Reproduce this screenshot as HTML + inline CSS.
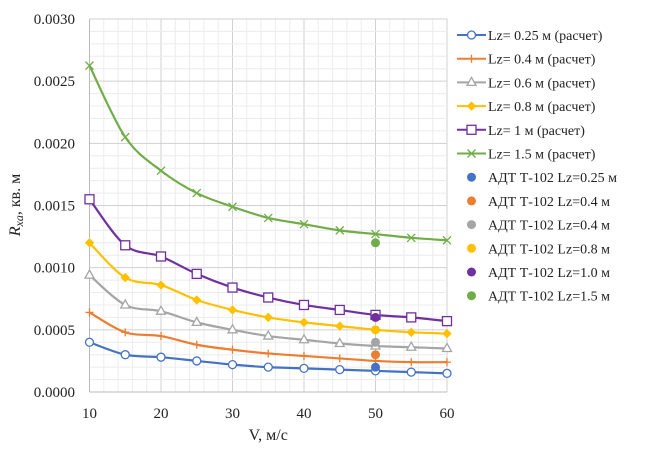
<!DOCTYPE html>
<html><head><meta charset="utf-8"><style>
body{margin:0;background:#fff;}
svg text{font-family:"Liberation Serif",serif;fill:#222;}
</style></head><body>
<svg id="chart" width="648" height="446" xmlns="http://www.w3.org/2000/svg">
<g id="grid"></g><g id="axes"></g><g id="series"></g><g id="legend"></g>
</svg>
<script>
const xCats=[10,15,20,25,30,35,40,45,50,55,60];
const sBlue=[0.0004,0.0003,0.00028,0.00025,0.00022,0.0002,0.00019,0.00018,0.00017,0.00016,0.00015];
const sOrange=[0.00064,0.00048,0.00045,0.00038,0.00034,0.00031,0.00029,0.00027,0.00025,0.00024,0.00024];
const sGray=[0.00094,0.0007,0.00065,0.00056,0.0005,0.00045,0.00042,0.00039,0.00037,0.00036,0.00035];
const sYellow=[0.0012,0.00092,0.00086,0.00074,0.00066,0.0006,0.00056,0.00053,0.0005,0.00048,0.00047];
const sPurple=[0.00155,0.00118,0.00109,0.00095,0.00084,0.00076,0.0007,0.00066,0.00062,0.0006,0.00057];
const sGreen=[0.002625,0.00205,0.00178,0.0016,0.00149,0.0014,0.00135,0.0013,0.00127,0.00124,0.00122];
const expX=[50,50,50,50,50,50];
const expY=[0.0002,0.0003,0.0004,0.0005,0.0006,0.0012];
const xTicks=[10,20,30,40,50,60];
const yTicks=["0.0000","0.0005","0.0010","0.0015","0.0020","0.0025","0.0030"];
const seriesNames=["Lz= 0.25 м (расчет)","Lz= 0.4 м (расчет)","Lz= 0.6 м (расчет)","Lz= 0.8 м (расчет)","Lz= 1 м (расчет)","Lz= 1.5 м (расчет)"];
const expNames=["АДТ Т-102 Lz=0.25 м","АДТ Т-102 Lz=0.4 м","АДТ Т-102 Lz=0.4 м","АДТ Т-102 Lz=0.8 м","АДТ Т-102 Lz=1.0 м","АДТ Т-102 Lz=1.5 м"];

const NS="http://www.w3.org/2000/svg";
const X0=89.5,X1=447,Y0=392,Y1=19;
const sx=v=>X0+(v-10)/50*(X1-X0);
const sy=v=>Y0-v/0.003*(Y0-Y1);
function mk(t,a,p){const e=document.createElementNS(NS,t);for(const k in a)e.setAttribute(k,a[k]);p.appendChild(e);return e;}
const grid=document.getElementById('grid'),axes=document.getElementById('axes'),ser=document.getElementById('series'),leg=document.getElementById('legend');
for(let v=10;v<=60;v+=2){const l=mk('line',{x1:sx(v),x2:sx(v),y1:Y1,y2:Y0,stroke:v%10==0?'#d0d0d0':'#ececec','stroke-width':1},grid);
}
for(let i=0;i<=30;i++){const v=i*0.0001;const l=mk('line',{x1:X0,x2:X1,y1:sy(v),y2:sy(v),stroke:i%5==0?'#d0d0d0':'#ececec','stroke-width':1},grid);
}
const ax=mk('line',{x1:X0,x2:X0,y1:Y1,y2:Y0,stroke:'#bbb'},axes);
const ax2=mk('line',{x1:X0,x2:X1,y1:Y0,y2:Y0,stroke:'#bbb'},axes);
xTicks.forEach(v=>{const t=mk('text',{x:sx(v),y:418,'text-anchor':'middle','font-size':15},axes);t.textContent=v;
});
yTicks.forEach(s=>{const t=mk('text',{x:75,y:sy(parseFloat(s))+5,'text-anchor':'end','font-size':15},axes);t.textContent=s;
});
const xt=mk('text',{x:sx(35),y:440,'text-anchor':'middle','font-size':16},axes);xt.textContent='V, м/с';

const yt=mk('text',{transform:'translate(20,205) rotate(-90)','text-anchor':'middle','font-size':16},axes);
yt.innerHTML='<tspan font-style="italic">R</tspan><tspan font-style="italic" font-size="12" dy="3">xa</tspan><tspan dy="-3">, кв. м</tspan>';


const colors=['#4472c4','#ed7d31','#a5a5a5','#ffc000','#7030a0','#70ad47'];
const data=[sBlue,sOrange,sGray,sYellow,sPurple,sGreen];
const markers=['circle','plus','tri','diamond','square','x'];
function marker(type,x,y,c,g){
 if(type=='circle')mk('circle',{cx:x,cy:y,r:4,fill:'#fff',stroke:c,'stroke-width':1.3},g);
 else if(type=='plus'){mk('path',{d:`M${x-4},${y}H${x+4}M${x},${y-4}V${y+4}`,stroke:c,'stroke-width':1.3},g);}
 else if(type=='tri')mk('path',{d:`M${x},${y-5}L${x+4.5},${y+3}L${x-4.5},${y+3}Z`,fill:'#fff',stroke:c,'stroke-width':1.3},g);
 else if(type=='diamond')mk('path',{d:`M${x},${y-4}L${x+4},${y}L${x},${y+4}L${x-4},${y}Z`,fill:c,stroke:c},g);
 else if(type=='square')mk('rect',{x:x-4.5,y:y-4.5,width:9,height:9,fill:'#fff',stroke:c,'stroke-width':1.3},g);
 else mk('path',{d:`M${x-4},${y-4}L${x+4},${y+4}M${x-4},${y+4}L${x+4},${y-4}`,stroke:c,'stroke-width':1.3},g);
}
data.forEach((arr,k)=>{
 const g=mk('g',{},ser);
 const P=arr.map((v,i)=>[sx(xCats[i]),sy(v)]);
 let d=`M${P[0][0]},${P[0][1]}`;
 for(let i=0;i<P.length-1;i++){const p0=P[Math.max(0,i-1)],p1=P[i],p2=P[i+1],p3=P[Math.min(P.length-1,i+2)];
  d+=`C${p1[0]+(p2[0]-p0[0])/6},${p1[1]+(p2[1]-p0[1])/6} ${p2[0]-(p3[0]-p1[0])/6},${p2[1]-(p3[1]-p1[1])/6} ${p2[0]},${p2[1]}`;}
 const path=mk('path',{d:d,fill:'none',stroke:colors[k],'stroke-width':2.2},g);
 
 P.forEach(p=>marker(markers[k],p[0],p[1],colors[k],g));
});
expY.forEach((v,k)=>{const c=mk('circle',{cx:sx(expX[k]),cy:sy(v),r:4.5,fill:colors[k]},ser);
 });
for(let k=0;k<6;k++){const y=35+k*23.7;const g=mk('g',{},leg);
 mk('line',{x1:457,x2:486,y1:y,y2:y,stroke:colors[k],'stroke-width':2},g);marker(markers[k],471.5,y,colors[k],g);
 const t=mk('text',{x:488,y:y+5,'font-size':14},g);t.textContent=seriesNames[k];}
for(let k=0;k<6;k++){const y=35+(k+6)*23.7;const g=mk('g',{},leg);
 mk('circle',{cx:471.5,cy:y,r:4.5,fill:colors[k]},g);
 const t=mk('text',{x:488,y:y+5,'font-size':14},g);t.textContent=expNames[k];}
</script>
</body></html>
